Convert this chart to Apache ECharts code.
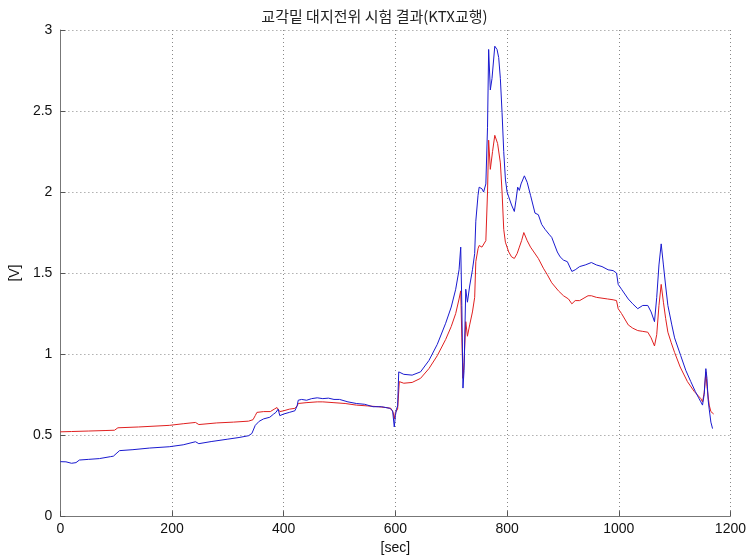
<!DOCTYPE html>
<html>
<head>
<meta charset="utf-8">
<title>교각밑 대지전위 시험 결과(KTX교행)</title>
<script src="https://cdn.jsdelivr.net/npm/echarts@6/dist/echarts.min.js"></script>
<style>
  html, body { margin: 0; padding: 0; background: #fff; }
  #chart { width: 749px; height: 560px; }
</style>
</head>
<body>
<div id="chart"></div>
<script>
// blue trace
const blueTime = [0, 10, 20, 28, 34, 50, 70, 90, 95, 106, 130, 160, 195, 220, 242, 248, 270, 300, 320, 337,
  343, 349, 356, 364, 375, 382, 386, 390, 393, 400, 410, 420, 424, 426, 432, 441, 450, 460, 470, 480,
  490, 500, 515, 530, 545, 560, 575, 583, 590, 595, 598, 600, 602, 604, 606, 615, 630, 645, 660, 675,
  690, 700, 708, 714, 717, 719, 721, 723, 726, 729, 733, 738, 742, 744, 748, 750, 755, 758,
  762, 765, 767, 770, 773, 778, 782, 785, 788, 791, 794, 797, 800, 803, 808, 813, 816, 819, 822, 825,
  831, 836, 842, 850, 856, 862, 868, 875, 880, 890, 895, 901, 908, 916, 922, 930, 940, 951, 960, 970,
  981, 990, 996, 999, 1005, 1017, 1025, 1034, 1043, 1052, 1058, 1064, 1068, 1072, 1076, 1080, 1084, 1088, 1095, 1100,
  1111, 1120, 1129, 1137, 1143, 1147, 1150, 1153, 1156, 1158, 1160, 1162, 1165, 1168];
const blueVolt = [0.336, 0.335, 0.326, 0.33, 0.346, 0.35, 0.355, 0.367, 0.37, 0.404, 0.41, 0.42, 0.428, 0.44, 0.459, 0.447, 0.46, 0.475, 0.485, 0.496,
  0.51, 0.56, 0.585, 0.6, 0.61, 0.63, 0.64, 0.66, 0.62, 0.63, 0.64, 0.65, 0.68, 0.715, 0.72, 0.715, 0.725, 0.73, 0.725, 0.728,
  0.72, 0.72, 0.705, 0.695, 0.69, 0.675, 0.675, 0.67, 0.665, 0.65, 0.55, 0.62, 0.66, 0.68, 0.89, 0.875, 0.87, 0.89, 0.96, 1.06,
  1.19, 1.29, 1.40, 1.52, 1.66, 1.3, 0.79, 0.9, 1.40, 1.32, 1.42, 1.52, 1.62, 1.82, 1.98, 2.03, 2.02, 2.0,
  2.05, 2.4, 2.88, 2.63, 2.7, 2.9, 2.88, 2.83, 2.7, 2.49, 2.25, 2.08, 2.0, 1.97, 1.92, 1.88, 1.95, 2.03, 2.01, 2.05,
  2.10, 2.06, 1.98, 1.87, 1.86, 1.8, 1.77, 1.74, 1.72, 1.63, 1.6, 1.58, 1.57, 1.51, 1.52, 1.54, 1.55, 1.565, 1.55, 1.54,
  1.52, 1.515, 1.50, 1.43, 1.40, 1.34, 1.31, 1.28, 1.30, 1.30, 1.26, 1.20, 1.35, 1.55, 1.68, 1.55, 1.42, 1.30, 1.18, 1.10,
  0.99, 0.9, 0.83, 0.77, 0.73, 0.705, 0.685, 0.75, 0.91, 0.85, 0.72, 0.66, 0.58, 0.54];

// red trace
const redTime = [0, 20, 50, 80, 97, 103, 140, 195, 220, 242, 248, 280, 310, 337, 345, 349, 352, 364, 376, 383,
  388, 393, 400, 410, 420, 424, 426, 440, 460, 470, 490, 510, 530, 550, 570, 583, 592, 596, 598, 600,
  604, 607, 615, 630, 645, 660, 675, 690, 700, 708, 714, 717, 719, 721, 723, 726, 729, 733, 738,
  742, 744, 748, 750, 755, 758, 762, 765, 767, 770, 774, 778, 783, 788, 791, 794, 797, 803, 808, 813,
  818, 822, 826, 830, 836, 842, 848, 856, 865, 872, 880, 892, 901, 910, 916, 922, 930, 945, 951, 960,
  970, 980, 990, 996, 999, 1005, 1017, 1025, 1034, 1043, 1052, 1058, 1064, 1068, 1072, 1076, 1080, 1084, 1088, 1094,
  1100, 1110, 1123, 1135, 1147, 1150, 1153, 1156, 1158, 1162, 1165, 1170];
const redVolt = [0.52, 0.522, 0.525, 0.528, 0.53, 0.545, 0.55, 0.56, 0.57, 0.578, 0.565, 0.575, 0.58, 0.586, 0.595, 0.62, 0.64, 0.645, 0.645, 0.66,
  0.67, 0.645, 0.65, 0.66, 0.665, 0.68, 0.695, 0.70, 0.705, 0.705, 0.70, 0.695, 0.685, 0.68, 0.675, 0.67, 0.665, 0.64, 0.60, 0.64,
  0.66, 0.83, 0.82, 0.825, 0.85, 0.91, 0.99, 1.09, 1.17, 1.25, 1.34, 1.39, 1.1, 0.85, 0.95, 1.20, 1.11, 1.18, 1.26,
  1.35, 1.57, 1.65, 1.67, 1.66, 1.65, 1.7, 2.0, 2.32, 2.14, 2.25, 2.35, 2.3, 2.18, 2.0, 1.77, 1.69, 1.63, 1.6, 1.59,
  1.62, 1.66, 1.70, 1.75, 1.70, 1.66, 1.63, 1.59, 1.53, 1.49, 1.44, 1.39, 1.36, 1.34, 1.31, 1.33, 1.33, 1.36, 1.36, 1.35,
  1.345, 1.34, 1.335, 1.33, 1.28, 1.25, 1.18, 1.16, 1.145, 1.14, 1.135, 1.10, 1.05, 1.12, 1.30, 1.43, 1.32, 1.22, 1.135, 1.07,
  1.01, 0.92, 0.83, 0.77, 0.725, 0.705, 0.76, 0.89, 0.8, 0.685, 0.645, 0.63];

const xTicks = [0, 200, 400, 600, 800, 1000, 1200];
const yTicks = [0, 0.5, 1, 1.5, 2, 2.5, 3];

const pairs = (t, v) => t.map((x, i) => [x, v[i]]);

var myChart = echarts.init(document.getElementById('chart'), null, { renderer: 'canvas' });
var option;

const axisFont = { fontFamily: 'Liberation Sans, Arial, sans-serif', fontSize: 14, color: '#111' };
const dotted = { show: true, lineStyle: { color: '#888', type: [1, 3], width: 1 } };

option = {
	animation: false,
	backgroundColor: '#fff',
	title: {
		text: '교각밑 대지전위 시험 결과(KTX교행)',
		left: 'center',
		top: 4,
		textStyle: {
			fontFamily: 'Noto Sans CJK KR, sans-serif',
			fontSize: 15,
			fontWeight: 'normal',
			color: '#222',
		},
	},
	grid: {
		left: 59,
		right: 16,
		top: 30,
		bottom: 42,
	},
	xAxis: {
		type: 'value',
		min: xTicks[0],
		max: xTicks[xTicks.length - 1],
		interval: 200,
		name: '[sec]',
		nameLocation: 'middle',
		nameGap: 24,
		nameTextStyle: axisFont,
		axisLine: { show: true, onZero: false, lineStyle: { color: '#777', width: 1 } },
		axisTick: { show: true, inside: true, length: 5, lineStyle: { color: '#555' } },
		axisLabel: Object.assign({ margin: 6, formatter: (v) => String(v) }, axisFont),
		splitLine: dotted,
	},
	yAxis: {
		type: 'value',
		min: yTicks[0],
		max: yTicks[yTicks.length - 1],
		interval: 0.5,
		name: '[V]',
		nameLocation: 'middle',
		nameGap: 32,
		nameRotate: 90,
		nameTextStyle: axisFont,
		axisLine: { show: true, lineStyle: { color: '#777', width: 1 } },
		axisTick: { show: true, inside: true, length: 5, lineStyle: { color: '#555' } },
		axisLabel: Object.assign({ margin: 8, formatter: (v) => String(v) }, axisFont),
		splitLine: dotted,
	},
	series: [
		{
			name: 'red',
			type: 'line',
			data: pairs(redTime, redVolt),
			showSymbol: false,
			symbol: 'none',
			lineStyle: { color: '#e02020', width: 1 },
			z: 2,
		},
		{
			name: 'blue',
			type: 'line',
			data: pairs(blueTime, blueVolt),
			showSymbol: false,
			symbol: 'none',
			lineStyle: { color: '#1a1ad0', width: 1 },
			z: 3,
		},
	],
};

option && myChart.setOption(option);
</script>
</body>
</html>
